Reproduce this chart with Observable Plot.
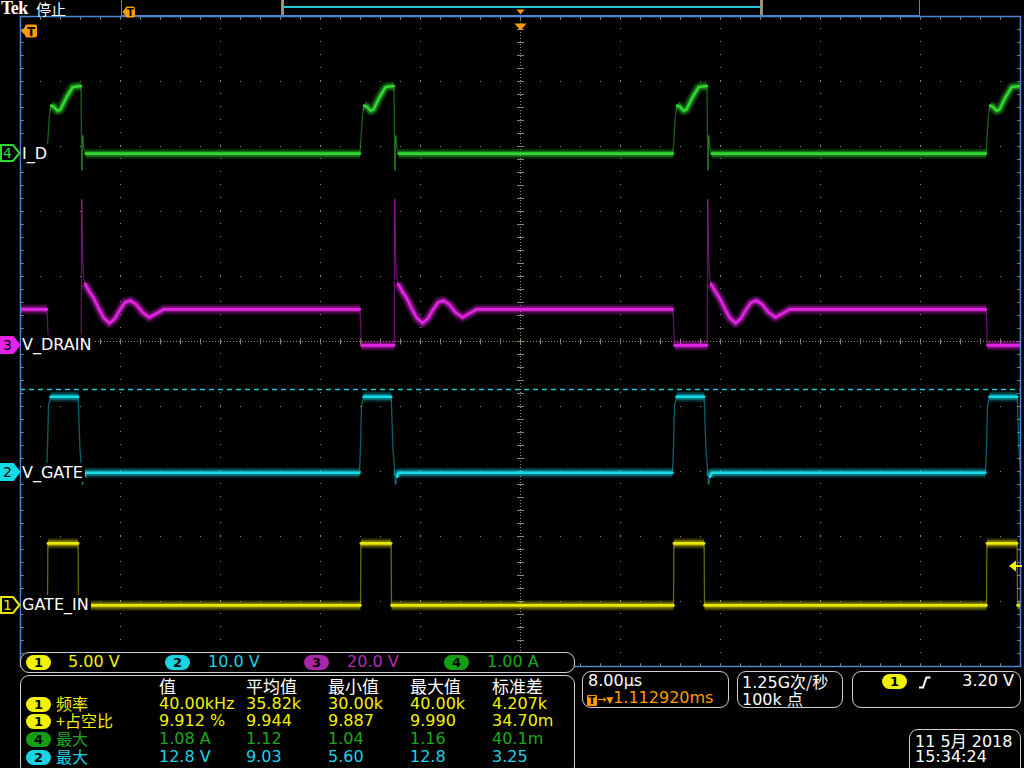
<!DOCTYPE html>
<html><head><meta charset="utf-8">
<script src="https://cdn.jsdelivr.net/npm/d3@7"></script>
<script src="https://cdn.jsdelivr.net/npm/@observablehq/plot@0.6"></script>
<style>
html,body{margin:0;padding:0;background:#000;}
#scope{position:relative;width:1024px;height:768px;overflow:hidden;background:#000;font-family:"DejaVu Sans","Noto Sans CJK SC",sans-serif;color:#fff;}
#scope > svg{position:absolute;left:0;top:0;}
.ov{position:absolute;white-space:nowrap;}
.box{position:absolute;border:1.5px solid #cfcfcf;border-radius:9px;background:#000;box-sizing:border-box;}
.pill{position:absolute;width:25px;height:15px;border-radius:8px;color:#000;font-weight:bold;font-size:13px;line-height:15px;text-align:center;}
.cjk{font-family:"Noto Sans CJK SC",sans-serif;font-size:16px;line-height:16px;}
.txt{font-size:16px;line-height:16px;}
</style></head><body><div id="scope"></div>
<script>
// ---------- data ----------
const channels = ["1", "2", "3", "4"];
const channelNames = ["GATE_IN", "V_GATE", "V_DRAIN", "I_D"];
const traceColors = ["#e8e800", "#12dce8", "#e424e4", "#32d832"];
const textColors = ["#f2f200", "#1ad4e4", "#b42cb4", "#1ea81e"];
const pillColors = ["#f2f200", "#1ad4e4", "#a826a8", "#12a012"];
const channelScales = [5, 10, 20, 1];           // units per division
const scaleLabels = ["5.00 V", "10.0 V", "20.0 V", "1.00 A"];
const channelOffsets = [-4.06, -2.02, -0.06, 2.89]; // divisions from centre
const timePerDiv = 8;                             // µs per division
const pulseStarts = [-37.84, -12.80, 12.24, 37.28]; // µs

// one switching period per channel: time after pulse start (µs) and value
const gateInT = [0, 0.03, 2.45, 2.48, 24.9];
const gateInV = [0, 4.77, 4.77, 0, 0];
const vGateT = [-0.08, 0.0, 0.08, 0.24, 2.46, 2.52, 2.6, 2.68, 2.8, 2.92, 3.04, 24.9];
const vGateV = [0, 4.0, 10.3, 11.7, 11.7, 7.8, 3.5, 1.7, -1.8, -0.6, 0, 0];
const vDrainT = [-0.04, 0.08, 2.7, 2.74, 2.8, 2.9, 3.0, 3.36, 3.7, 4.08, 4.5, 4.96, 5.4, 5.8, 6.2, 6.64, 7.1, 7.6, 8.16, 8.7, 9.3, 24.9];
const vDrainV = [11.1, 0, 0, 45, 28, 21, 19, 16.5, 14.5, 11.5, 8.5, 6.8, 8.3, 11, 13.2, 13.8, 12.6, 10.2, 8.6, 9.8, 11.1, 11.1];
const iDT = [-0.04, 0.04, 0.16, 0.28, 0.52, 0.8, 1.04, 1.5, 2.0, 2.2, 2.68, 2.72, 2.76, 2.82, 2.9, 3.05, 24.9];
const iDV = [0, 0.25, 0.6, 0.74, 0.72, 0.66, 0.68, 0.86, 1.02, 1.03, 1.04, 0.2, -0.26, 0.28, 0.1, 0, 0];

const ch2MaxValue = 12.8;   // V, measurement indicator
const triggerLevel = 3.20;  // V on channel 1

const measHeaders = ["值", "平均值", "最小值", "最大值", "标准差"];
const measChannels = [0, 0, 3, 1];
const measNames = ["频率", "+占空比", "最大", "最大"];
const measValues = [
  ["40.00kHz", "35.82k", "30.00k", "40.00k", "4.207k"],
  ["9.912 %", "9.944", "9.887", "9.990", "34.70m"],
  ["1.08 A", "1.12", "1.04", "1.16", "40.1m"],
  ["12.8 V", "9.03", "5.60", "12.8", "3.25"]
];
const horizLabel = "8.00µs";
const delayLabel = "1.112920ms";
const sampleLabel = ["1.25G", "次/秒"];
const pointsLabel = ["100k ", "点"];
const trigLabel = "3.20 V";
const dateLabel = ["11 5月 2018", "15:34:24"];

// ---------- build series ----------
const shapes = [[gateInT, gateInV], [vGateT, vGateV], [vDrainT, vDrainV], [iDT, iDV]];
const pxPerUs = 100 / timePerDiv, pxPerDiv = 65;
function buildSeries(ci) {
  const [T, V] = shapes[ci];
  const pts = [{t: -5 * timePerDiv, v: V[V.length - 1]}];
  for (const s of pulseStarts) for (let i = 0; i < T.length; i++) pts.push({t: s + T[i], v: V[i]});
  return pts.map(p => ({x: p.t, y: channelOffsets[ci] + p.v / channelScales[ci]}));
}
function traceMarks(ci) {
  const pts = buildSeries(ci), color = traceColors[ci];
  const runs = [], steep = [];
  let run = 0, cur = null;
  for (let i = 1; i < pts.length; i++) {
    const a = pts[i - 1], b = pts[i];
    const dx = Math.abs(b.x - a.x) * pxPerUs, dy = Math.abs(b.y - a.y) * pxPerDiv;
    if (dy > 5 && dy > 2.5 * dx) { steep.push({x1: a.x, y1: a.y, x2: b.x, y2: b.y}); cur = null; }
    else { if (!cur) { cur = ++run; runs.push({...a, run: cur}); } runs.push({...b, run: cur}); }
  }
  return [
    Plot.line(runs, {x: "x", y: "y", z: "run", stroke: color, strokeOpacity: 0.22, strokeWidth: 10, strokeLinecap: "butt", clip: true}),
    Plot.line(runs, {x: "x", y: "y", z: "run", stroke: color, strokeOpacity: 0.4, strokeWidth: 6, strokeLinecap: "butt", clip: true}),
    Plot.line(runs, {x: "x", y: "y", z: "run", stroke: color, strokeWidth: 2.6, clip: true}),
    Plot.link(steep, {x1: "x1", y1: "y1", x2: "x2", y2: "y2", stroke: color, strokeOpacity: 0.45, strokeWidth: 1.3, clip: true})
  ];
}

// ---------- graticule ----------
const gridColor = "#8f8672";
const half = 5 * timePerDiv;
const majorX = d3.range(-4, 5).filter(d => d !== 0).map(d => d * timePerDiv);
const majorY = d3.range(-4, 5).filter(d => d !== 0);
const minorX = d3.range(-25, 26).map(d => d * timePerDiv / 5);
const minorY = d3.range(-25, 26).map(d => d / 5);

const chart = Plot.plot({
  width: 1024, height: 768,
  marginLeft: 20, marginRight: 4, marginTop: 16, marginBottom: 102,
  x: {domain: [-half, half], axis: null},
  y: {domain: [-5, 5], axis: null},
  style: {background: "#000", overflow: "visible"},
  marks: [
    Plot.ruleX(majorX, {y1: -5, y2: 5, stroke: gridColor, strokeDasharray: "1,12"}),
    Plot.ruleY(majorY, {x1: -half, x2: half, stroke: gridColor, strokeDasharray: "1,19"}),
    Plot.ruleX([0], {y1: -5, y2: 5, stroke: gridColor, strokeDasharray: "1,2"}),
    Plot.ruleY([0], {x1: -half, x2: half, stroke: gridColor, strokeDasharray: "1,2"}),
    Plot.link(minorY, {x1: -0.28, x2: 0.28, y1: d => d, y2: d => d, stroke: gridColor}),
    Plot.link(minorX, {x1: d => d, x2: d => d, y1: -0.045, y2: 0.045, stroke: gridColor}),
    Plot.link(minorX, {x1: d => d, x2: d => d, y1: 5, y2: 4.95, stroke: gridColor}),
    Plot.link(minorX, {x1: d => d, x2: d => d, y1: -5, y2: -4.95, stroke: gridColor}),
    Plot.link(minorY, {x1: -half, x2: -half + 0.25, y1: d => d, y2: d => d, stroke: gridColor}),
    Plot.link(minorY, {x1: half, x2: half - 0.25, y1: d => d, y2: d => d, stroke: gridColor}),
    ...traceMarks(3), ...traceMarks(2), ...traceMarks(1), ...traceMarks(0),
    Plot.ruleY([channelOffsets[1] + ch2MaxValue / channelScales[1]], {x1: -half, x2: half, stroke: "#22c8d8", strokeWidth: 1.5, strokeDasharray: "5,4"}),
    Plot.frame({stroke: "#4f86d4", strokeWidth: 1.5})
  ]
});

const scope = document.getElementById("scope");
scope.appendChild(chart);
const xs = chart.scale("x"), ys = chart.scale("y");

function add(html, style, cls) {
  const d = document.createElement("div");
  d.className = cls || "ov";
  d.innerHTML = html;
  Object.assign(d.style, style);
  scope.appendChild(d);
  return d;
}

// channel markers and trace labels
channels.forEach((ch, i) => {
  const yc = ys.apply(channelOffsets[i]);
  const filled = i === 1 || i === 2;
  const c = traceColors[i];
  add(`<svg width="21" height="18"><path d="M1,1 H13 L19.5,9 L13,17 H1 Z" fill="${filled ? c : "#000"}" stroke="${c}" stroke-width="2"/>
       <text x="7.5" y="14" text-anchor="middle" font-family="DejaVu Sans" font-size="14" fill="${filled ? "#000" : c}">${ch}</text></svg>`,
      {left: "0px", top: (yc - 9) + "px", width: "21px", height: "18px"});
  add(channelNames[i], {left: "21px", top: (yc - 9.5) + "px", fontSize: "16px", lineHeight: "19px", background: "#000", padding: "0 2px 0 1px", color: "#fff"});
});

// trigger level arrow (right)
{
  const yt = ys.apply(channelOffsets[0] + triggerLevel / channelScales[0]);
  add(`<svg width="14" height="12"><path d="M1,6 L8,0.5 L8,11.5 Z" fill="#f0f000"/><line x1="7" y1="6" x2="14" y2="6" stroke="#f0f000" stroke-width="2"/></svg>`,
      {left: (xs.apply(half) - 12) + "px", top: (yt - 6) + "px", width: "14px", height: "12px"});
}
// top centre orange marker and T flag
add(`<svg width="13" height="8"><path d="M0.5,0.5 H12.5 L6.5,7.5 Z" fill="#ff9a00"/></svg>`, {left: (xs.apply(0) - 6) + "px", top: "16px"});
add(`<svg width="20" height="14"><path d="M1,7 L6,2 L6,12 Z" fill="#ff9a00"/><rect x="5" y="0.5" width="12" height="13" rx="2" fill="#ff9a00"/>
     <text x="11" y="12" text-anchor="middle" font-family="DejaVu Sans" font-weight="bold" font-size="12" fill="#000">T</text></svg>`,
    {left: "20px", top: "23px"});

// header
add("Tek", {left: "1px", top: "0px", fontFamily: "Liberation Serif", fontWeight: "bold", fontSize: "18px", lineHeight: "17px", letterSpacing: "-0.5px", color: "#fff"});
add("停止", {left: "36px", top: "0px", fontFamily: "Noto Sans CJK SC", fontSize: "15px", lineHeight: "17px", color: "#fff"});
// record view bar
add("", {left: "121px", top: "-2px", width: "799px", height: "18px", border: "1.5px solid #4f86d4", boxSizing: "border-box"});
add("", {left: "281px", top: "0px", width: "3px", height: "15px", background: "#9a9278"});
add("", {left: "760px", top: "0px", width: "3px", height: "15px", background: "#9a9278"});
add("", {left: "284px", top: "6px", width: "476px", height: "2px", background: "#22c8d8"});
add(`<svg width="14" height="12"><path d="M0.5,6 L4,1.5 L4,10.5 Z" fill="#ff9a00"/><rect x="3.5" y="0.5" width="9.5" height="11" rx="2" fill="#ff9a00"/>
     <text x="8.3" y="10" text-anchor="middle" font-family="DejaVu Sans" font-weight="bold" font-size="10" fill="#000">T</text></svg>`,
    {left: "122px", top: "3px"});
add(`<svg width="9" height="6"><path d="M0.5,0.5 H8.5 L4.5,5.5 Z" fill="#ff9a00"/></svg>`, {left: "516px", top: "0px"});

// channel scale box
add("", {left: "20px", top: "652px", width: "555px", height: "21px"}, "box");
const pillX = [26, 165, 304, 444], scaleX = [68, 208, 347, 487];
channels.forEach((ch, i) => {
  add(ch, {left: pillX[i] + "px", top: "655px", background: pillColors[i]}, "pill");
  add(scaleLabels[i], {left: scaleX[i] + "px", top: "654px", color: textColors[i]}, "ov txt");
});

// measurement box
add("", {left: "20px", top: "675px", width: "555px", height: "100px"}, "box");
const colX = [159, 246, 328, 410, 492];
const rowY = [704, 721, 739, 757];
measHeaders.forEach((h, j) => add(h, {left: colX[j] + "px", top: "678px", color: "#fff", fontSize: "17px"}, "ov cjk"));
const rowColors = ["#f2f200", "#f2f200", "#1ea81e", "#1ad4e4"];
measNames.forEach((n, r) => {
  const ci = measChannels[r];
  add(channels[ci], {left: "26px", top: (rowY[r] - 7.5) + "px", background: pillColors[ci]}, "pill");
  add(n, {left: "56px", top: (rowY[r] - 9.5) + "px", color: rowColors[r]}, "ov cjk");
  measValues[r].forEach((v, j) => add(v, {left: colX[j] + "px", top: (rowY[r] - 8) + "px", color: rowColors[r]}, "ov txt"));
});

// horizontal box
add("", {left: "582px", top: "671px", width: "147px", height: "37px"}, "box");
add(horizLabel, {left: "588px", top: "673px", color: "#fff"}, "ov txt");
add(`<span style="display:inline-block;width:10px;height:11px;background:#ff9a00;color:#000;font-weight:bold;font-size:10px;line-height:11px;text-align:center;border-radius:1px;vertical-align:-1px">T</span><span style="font-size:11px">→</span><span style="font-size:9px">▼</span>${delayLabel}`,
    {left: "587px", top: "690px", color: "#ff9a00"}, "ov txt");
// acquisition box
add("", {left: "737px", top: "671px", width: "106px", height: "37px"}, "box");
add(`${sampleLabel[0]}<span class="cjk">${sampleLabel[1]}</span>`, {left: "742px", top: "673px", color: "#fff"}, "ov txt");
add(`${pointsLabel[0]}<span class="cjk">${pointsLabel[1]}</span>`, {left: "742px", top: "690px", color: "#fff"}, "ov txt");
// trigger box
add("", {left: "852px", top: "671px", width: "169px", height: "37px"}, "box");
add(channels[0], {left: "882px", top: "674px", background: pillColors[0]}, "pill");
add(`<svg width="12" height="13"><path d="M0,11.5 H4 L7.5,1.5 H11.5" fill="none" stroke="#fff" stroke-width="2"/></svg>`, {left: "919px", top: "674px"});
add(trigLabel, {left: "940px", width: "74px", textAlign: "right", top: "673px", color: "#fff"}, "ov txt");
// date box
add("", {left: "909px", top: "729px", width: "112px", height: "48px"}, "box");
add(dateLabel[0].replace("月", '<span class="cjk">月</span>'), {left: "915px", top: "732px", color: "#fff"}, "ov txt");
add(dateLabel[1], {left: "915px", top: "749px", color: "#fff"}, "ov txt");
</script></body></html>
